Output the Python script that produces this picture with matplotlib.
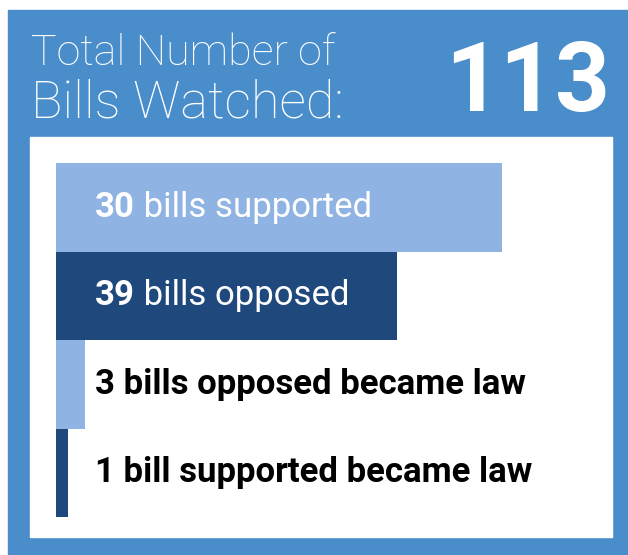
import matplotlib.pyplot as plt
from matplotlib.patches import Rectangle

# data
total_watched = 113
counts = [30, 39, 3, 1]
descriptions = ["bills supported", "bills opposed", "bills opposed became law", "bill supported became law"]
bar_lengths = [446, 341, 29, 12]   # bar lengths as drawn (px), not proportional to counts
bar_colors = ["#8fb3e3", "#1f497d", "#8fb3e3", "#1f497d"]

BLUE = "#4a8dcb"
W, H = 628, 555

fig = plt.figure(figsize=(W / 100, H / 100), dpi=100)
fig.patch.set_facecolor("white")

# background frame, in pixel coordinates
bg = fig.add_axes([0, 0, 1, 1])
bg.set_xlim(0, W)
bg.set_ylim(H, 0)
bg.axis("off")
bg.add_patch(Rectangle((8, 10), W - 8, H - 10, color=BLUE))
bg.add_patch(Rectangle((30, 137), 582, 400, color="white"))

bg.text(31, 65, "Total Number of", color="white", fontsize=31, family="Roboto",
        fontweight="light", va="baseline")
bg.text(31, 118, "Bills Watched:", color="white", fontsize=37.5, family="Roboto",
        fontweight="light", va="baseline")
bg.text(610, 111, str(total_watched), color="white", fontsize=69, family="Roboto",
        fontweight="bold", ha="right", va="baseline")

# bars
left, top, bottom = 56, 163, 517
ax = fig.add_axes([left / W, (H - bottom) / H, 540 / W, (bottom - top) / H])
ax.set_xlim(0, 540)
ax.set_ylim(len(counts) - 0.5, -0.5)
ax.axis("off")
ax.barh(range(len(counts)), bar_lengths, height=1.0, color=bar_colors)

for i, (n, d) in enumerate(zip(counts, descriptions)):
    yb = i + 0.11
    if i < 2:
        t = ax.text(39, yb, str(n), color="white", fontsize=25, family="Roboto",
                    fontweight="bold", va="baseline")
        ax.annotate(" " + d, xy=(1, yb), xycoords=(t, "data"), color="white",
                    fontsize=25, family="Roboto", fontweight="normal", va="baseline")
    else:
        ax.text(39, yb, f"{n} {d}", color="black", fontsize=25, family="Roboto",
                fontweight="bold", va="baseline")

fig.savefig("out.png", dpi=100)
